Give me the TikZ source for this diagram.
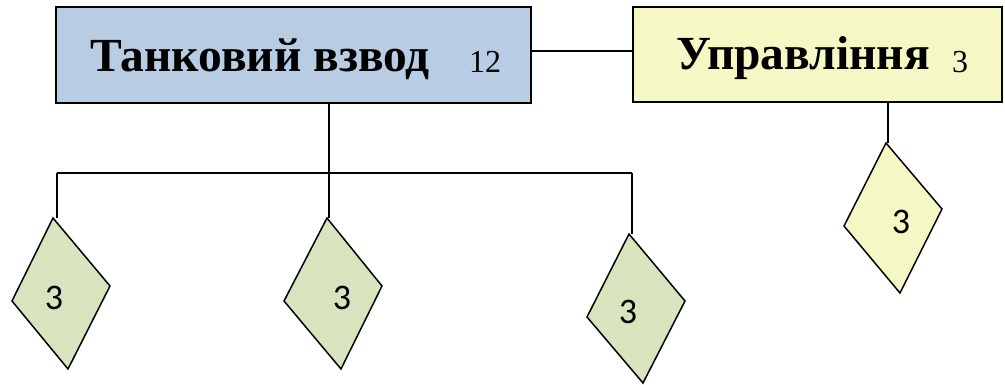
\documentclass[tikz,border=0pt]{standalone}
\usepackage{fontspec}
\setmainfont{Liberation Serif}
\newfontfamily\digitfont{Carlito}
\definecolor{boxblue}{RGB}{184,204,228}
\definecolor{boxyellow}{RGB}{245,248,196}
\definecolor{dgreen}{RGB}{215,228,189}
\begin{document}
\begin{tikzpicture}[x=1pt,y=-1pt,
  conn/.style={line width=1.5pt,black},
  unitbox/.style={draw=black,line width=1.8pt,rectangle,inner sep=0pt,anchor=north west},
  dia/.style={draw=black,line width=1.5pt,line join=miter},
  dlabel/.style={font=\digitfont\fontsize{36}{40}\selectfont,inner sep=0pt}]
\useasboundingbox (0,0) rectangle (1005,385);
% boxes
\node[unitbox,fill=boxblue,minimum width=475pt,minimum height=96pt] (tank) at (55,6) {};
\node[unitbox,fill=boxyellow,minimum width=369pt,minimum height=95pt] (upr) at (632,6) {};
\node[anchor=base west,inner sep=0pt,font=\bfseries\fontsize{47.5}{52}\selectfont] (tanktxt) at (90,72) {Танковий взвод};
\node[anchor=base west,inner sep=0pt,font=\fontsize{32}{36}\selectfont] (tanknum) at (469,73) {12};
\node[anchor=base west,inner sep=0pt,font=\bfseries\fontsize{47.5}{52}\selectfont] (uprtxt) at (676,70) {Управління};
\node[anchor=base west,inner sep=0pt,font=\fontsize{32}{36}\selectfont] (uprnum) at (952,73) {3};
% diamonds
\draw[dia,fill=dgreen] (53,218) coordinate (d1) -- (110,286) -- (68,369) -- (12,301) -- cycle;
\node[dlabel] (l1) at (54,298) {3};
\draw[dia,fill=dgreen] (327,218) coordinate (d2) -- (382,286) -- (341,369) -- (284,301) -- cycle;
\node[dlabel] (l2) at (342,298) {3};
\draw[dia,fill=dgreen] (629,234) coordinate (d3) -- (685,301) -- (643,383) -- (587,317) -- cycle;
\node[dlabel] (l3) at (628,312) {3};
\draw[dia,fill=boxyellow] (886,143) coordinate (d4) -- (942,209) -- (900,293) -- (844,226) -- cycle;
\node[dlabel] (l4) at (901,222) {3};
% connectors
\coordinate (tb) at (329,102);
\coordinate (hub) at (329,173);
\coordinate (hl) at (57,173);
\coordinate (hr) at (632,173);
\coordinate (ub) at (888,101);
\draw[conn] (tank.east |- 0,51) -- (upr.west |- 0,51);
\draw[conn] (tb) -- (hub);
\draw[conn] (hl) -- (hr);
\draw[conn] (hl) -- (hl |- d1);
\draw[conn] (hub) -- (hub |- d2);
\draw[conn] (hr) -- (hr |- d3);
\draw[conn] (ub) -- (ub |- d4);
\end{tikzpicture}
\end{document}
